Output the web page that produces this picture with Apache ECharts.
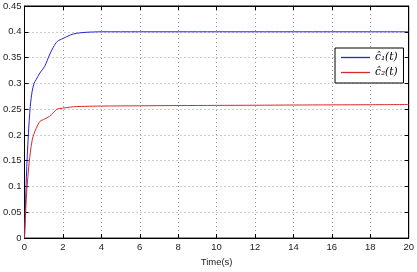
<!DOCTYPE html>
<html>
<head>
<meta charset="utf-8">
<script src="https://cdn.jsdelivr.net/npm/echarts@6/dist/echarts.min.js"></script>
<style>
  html, body { margin: 0; padding: 0; background: #fff; }
  #chart { width: 417px; height: 272px; }
</style>
</head>
<body>
<div id="chart"></div>
<script>
const tiempo = [0, 0.1, 0.2, 0.3, 0.4, 0.5, 0.6, 0.8, 1.05, 1.3, 1.5, 1.7, 2.0, 2.4, 2.7, 3.2, 4, 6, 8, 10, 12, 14, 16, 18, 20]
const c1 = [0, 0.12, 0.2, 0.255, 0.285, 0.3, 0.307, 0.32, 0.333, 0.355, 0.37, 0.381, 0.387, 0.394, 0.397, 0.399, 0.4, 0.4, 0.4, 0.4, 0.4, 0.4, 0.4, 0.4, 0.4]
const c2 = [0, 0.08, 0.13, 0.165, 0.19, 0.203, 0.212, 0.226, 0.231, 0.236, 0.243, 0.25, 0.252, 0.254, 0.255, 0.2555, 0.256, 0.2565, 0.257, 0.2573, 0.2576, 0.258, 0.2583, 0.2586, 0.259]
const xTicks = [0, 2, 4, 6, 8, 10, 12, 14, 16, 18, 20]
const yTicks = ['0', '0.05', '0.1', '0.15', '0.2', '0.25', '0.3', '0.35', '0.4', '0.45']

const par = (ys) => tiempo.map((t, i) => [t, ys[i]])

const fuente = 'Liberation Sans'
const rejilla = { show: true, lineStyle: { color: '#999', type: [1, 3], width: 1 } }
const linea = { show: true, onZero: false, lineStyle: { color: '#000', width: 1 } }
const marca = { show: true, inside: true, length: 4, lineStyle: { color: '#000' } }

const chart = echarts.init(document.getElementById('chart'))
chart.setOption({
  animation: false,
  grid: { left: 21, right: 6, top: 6, bottom: 27, show: true, borderColor: '#000', borderWidth: 1 },
  xAxis: [
    {
      type: 'value', min: 0, max: 20, interval: 2,
      name: 'Time(s)', nameLocation: 'middle', nameGap: 16,
      nameTextStyle: { fontFamily: fuente, fontSize: 9.5, color: '#222' },
      axisLine: linea, axisTick: marca, splitLine: rejilla,
      axisLabel: { fontFamily: fuente, fontSize: 9.5, color: '#222', margin: 4 }
    },
    {
      type: 'value', min: 0, max: 20, interval: 2, position: 'top',
      axisLine: linea, axisTick: marca, splitLine: { show: false }, axisLabel: { show: false }
    }
  ],
  yAxis: [
    {
      type: 'value', min: 0, max: 0.45, interval: 0.05,
      axisLine: linea, axisTick: marca, splitLine: rejilla,
      axisLabel: {
        fontFamily: fuente, fontSize: 9.5, color: '#222', margin: 3,
        formatter: (v) => yTicks[Math.round(v / 0.05)]
      }
    },
    {
      type: 'value', min: 0, max: 0.45, interval: 0.05, position: 'right',
      axisLine: linea, axisTick: marca, splitLine: { show: false }, axisLabel: { show: false }
    }
  ],
  legend: {
    orient: 'vertical', left: 335, top: 48,
    backgroundColor: '#fff', borderColor: '#000', borderWidth: 1,
    padding: [4, 6, 5, 6], itemGap: 4, itemWidth: 29, itemHeight: 13,
    icon: 'path://M0,6 L29,6 L29,7.3 L0,7.3 Z',
    textStyle: { fontFamily: 'DejaVu Serif', fontStyle: 'italic', fontSize: 10.5, color: '#000' },
    data: ['ĉ₁(t)', 'ĉ₂(t)']
  },
  series: [
    { name: 'ĉ₁(t)', type: 'line', data: par(c1), symbol: 'none', smooth: 0.3, lineStyle: { color: '#2424d6', width: 1 }, itemStyle: { color: '#2424d6' } },
    { name: 'ĉ₂(t)', type: 'line', data: par(c2), symbol: 'none', smooth: 0.3, lineStyle: { color: '#d82828', width: 1 }, itemStyle: { color: '#d82828' } }
  ]
})
</script>
</body>
</html>
